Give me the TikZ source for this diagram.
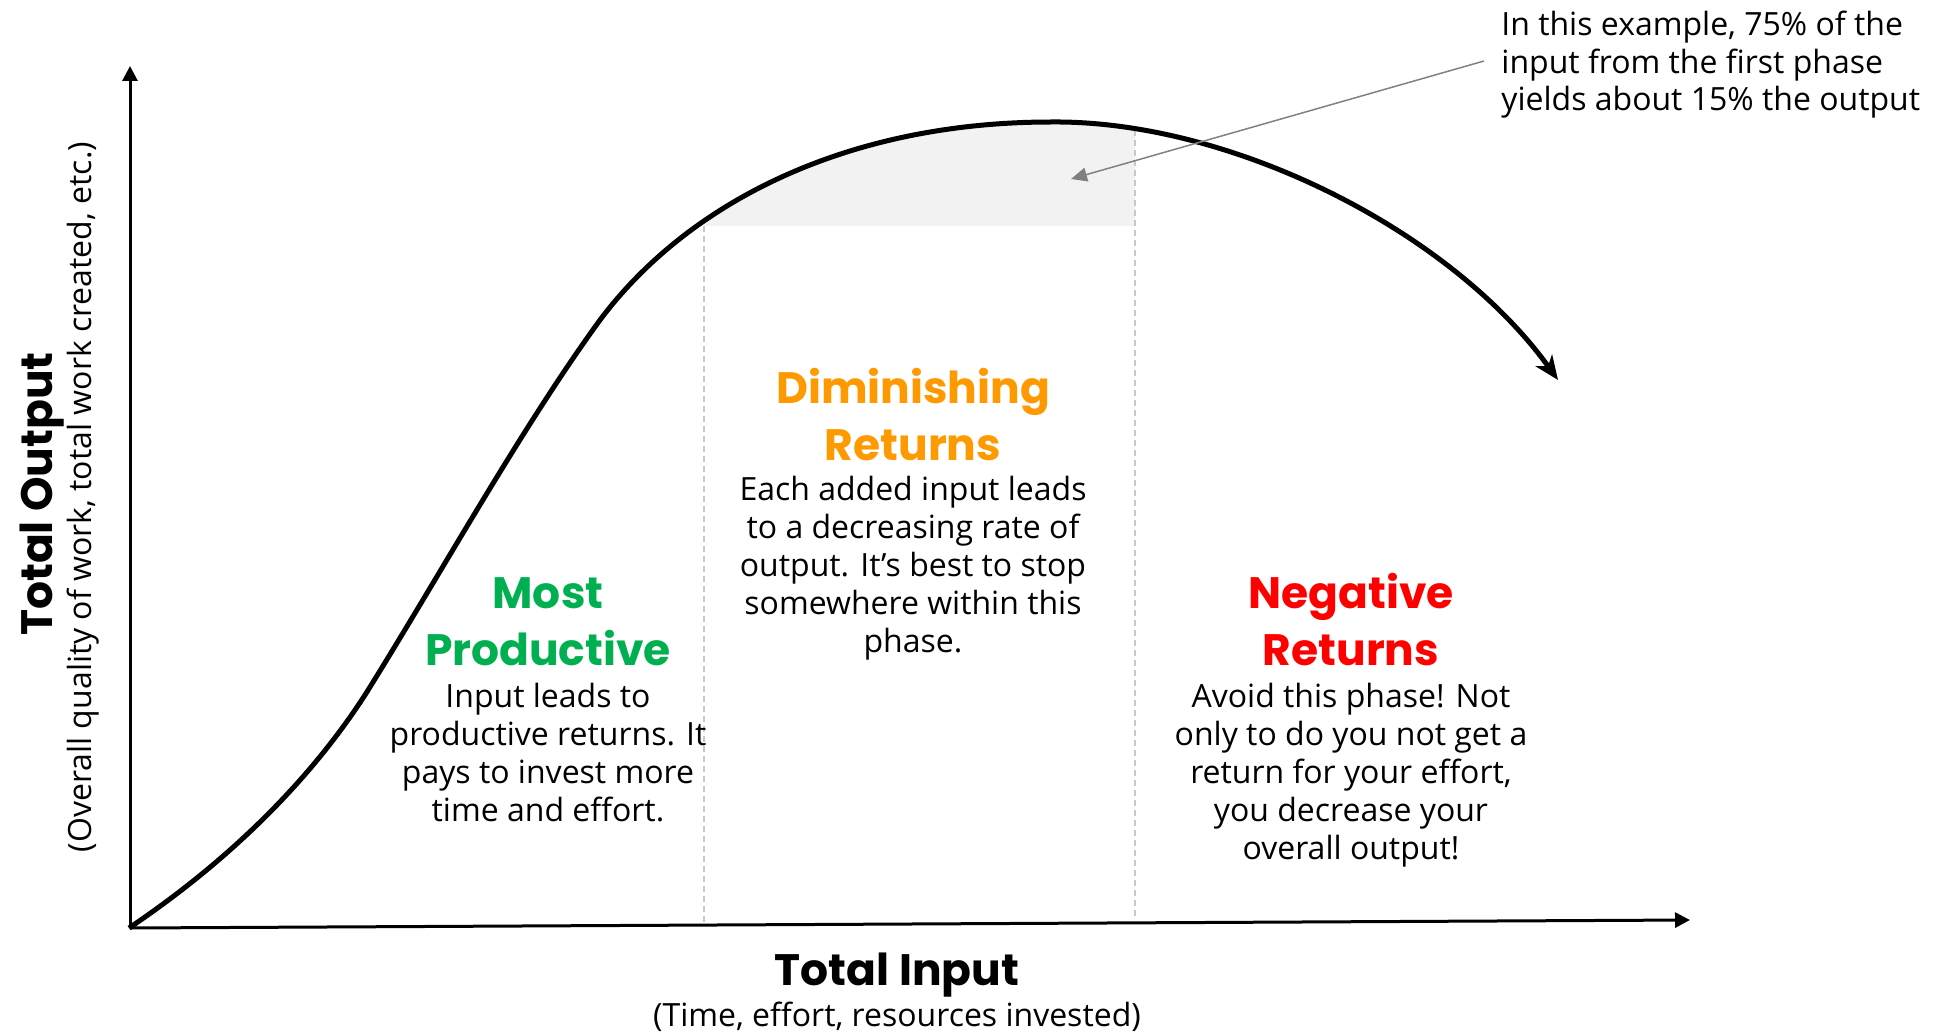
\documentclass[tikz,border=0pt]{standalone}
\usepackage{fontspec}
\setmainfont{Open Sans}
\newfontfamily\headfont{Poppins}
\usetikzlibrary{arrows.meta}
\definecolor{prodgreen}{HTML}{00B050}
\definecolor{dimorange}{HTML}{FF9900}
\definecolor{negred}{HTML}{FF0000}
\definecolor{shadegray}{HTML}{F2F2F2}
\definecolor{dashgray}{HTML}{C8C8C8}
\definecolor{notegray}{HTML}{808080}
\tikzset{
	headtext/.style={align=center, inner sep=0pt, anchor=base, font=\headfont\bfseries\fontsize{22}{28.5}\selectfont},
	bodytext/.style={align=center, inner sep=0pt, anchor=base, font=\fontsize{16}{19}\selectfont},
	axis/.style={line width=1.5pt, -{Triangle[length=7.5pt, width=7.5pt]}},
	phasedash/.style={line width=0.6pt, color=dashgray, dash pattern=on 3pt off 2pt}
}

\begin{document}
\begin{tikzpicture}[x=0.5pt, y=-0.5pt]
			%%%%% START %%%%%
			\useasboundingbox (0, 0) rectangle (1936, 1032);
			
			% shaded part of the top
			\begin{scope}
				\clip (704, 0) rectangle (1135, 226);
				\fill[shadegray] (600, 320) .. controls (690, 200) and (850, 122) .. (1051, 122) .. controls (1230, 120) and (1450, 230) .. (1558, 380) -- cycle;
			\end{scope}
			
			\coordinate (origin) at (130, 928);
			\coordinate (ytop) at (130, 66);
			\coordinate (xend) at (1690, 920);
			
			\draw[phasedash] (704, 226) -- (704, 925);
			\draw[phasedash] (1135, 130) -- (1135, 920);
			
			\draw[axis] (origin) -- (ytop);
			\draw[axis] (origin) -- (xend);
			
			% the curve
			\draw[line width=2.5pt, line join=round, -{Stealth[length=12pt, width=10pt, inset=3.5pt]}] (129, 928) .. controls (230, 860) and (310, 780) .. (365, 695) .. controls (440, 575) and (520, 430) .. (600, 320) .. controls (690, 200) and (850, 122) .. (1051, 122) .. controls (1230, 120) and (1450, 230) .. (1558, 380);
			
			% axis labels
			\node[headtext, rotate=90] (outlabel) at (52, 494) {Total Output};
			\node[bodytext, rotate=90] (outsub) at (91, 497) {(Overall quality of work, total work created, etc.)};
			\node[headtext] (inlabel) at (897, 985) {Total Input};
			\node[bodytext] (insub) at (897, 1026) {(Time, effort, resources invested)};
			
			% phases
			\node[headtext, color=prodgreen] (most) at (548, 665) {Most\\Productive};
			\node[bodytext] (mostbody) at (548, 821) {Input leads to\\productive returns. It\\pays to invest more\\time and effort.};
			
			\node[headtext, color=dimorange] (dimin) at (913, 460) {Diminishing\\Returns};
			\node[bodytext] (diminbody) at (913, 652) {Each added input leads\\to a decreasing rate of\\output. It’s best to stop\\somewhere within this\\phase.};
			
			\node[headtext, color=negred] (neg) at (1351, 665) {Negative\\Returns};
			\node[bodytext] (negbody) at (1351, 859) {Avoid this phase! Not\\only to do you not get a\\return for your effort,\\you decrease your\\overall output!};
			
			% note at the top
			\node[bodytext, align=left, anchor=base west, font=\fontsize{16}{18.75}\selectfont] (note) at (1501, 111) {In this example, 75\% of the\\input from the first phase\\yields about 15\% the output};
			\coordinate (notestart) at (1484, 61);
			\coordinate (notetip) at (1071, 179);
			\draw[line width=0.75pt, color=notegray, -{Triangle[length=8pt, width=7pt]}] (notestart) -- (notetip);
			
			%%%%% END %%%%%
\end{tikzpicture}
\end{document}
